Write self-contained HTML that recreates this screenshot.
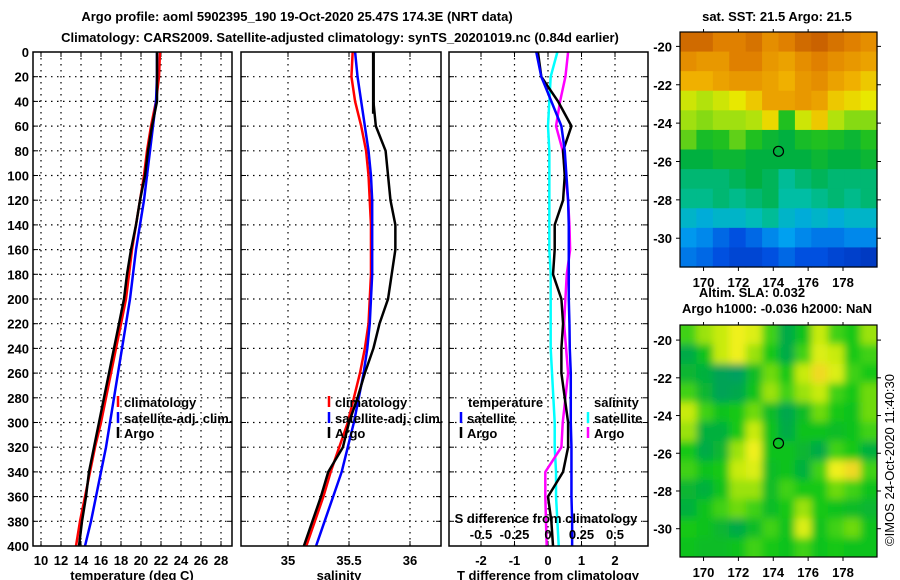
<!DOCTYPE html>
<html><head><meta charset="utf-8">
<style>
html,body{margin:0;padding:0;background:#fff;}
svg{display:block;}
text{font-family:"Liberation Sans",Arial,sans-serif;font-weight:bold;font-size:13px;fill:#000;}
</style></head>
<body>
<svg id="chart" width="900" height="580" viewBox="0 0 900 580" xmlns="http://www.w3.org/2000/svg">
<defs>
<clipPath id="mapclip2"><rect x="680" y="325" width="197" height="232"/></clipPath>
<filter id="blur2" x="-5%" y="-5%" width="110%" height="110%"><feGaussianBlur stdDeviation="4"/></filter>
</defs>
<text x="297" y="21" text-anchor="middle">Argo profile: aoml 5902395_190 19-Oct-2020 25.47S 174.3E (NRT data)</text>
<text x="340" y="42" text-anchor="middle">Climatology: CARS2009. Satellite-adjusted climatology: synTS_20201019.nc (0.84d earlier)</text>
<text x="777" y="21" text-anchor="middle">sat. SST: 21.5 Argo: 21.5</text>
<text x="752" y="297" text-anchor="middle">Altim. SLA: 0.032</text>
<text x="777" y="313" text-anchor="middle">Argo h1000: -0.036 h2000: NaN</text>
<text transform="translate(894,460) rotate(-90)" text-anchor="middle" style="font-weight:normal;font-size:13px">©IMOS 24-Oct-2020 11:40:30</text>
<g id="g"></g>
</svg>
<script>
// ---- data ----
const depths = [0,20,40,60,80,100,120,140,160,180,200,220,240,260,280,300,320,340,360,380,400];
const tempClim = [21.9,21.8,21.5,21.0,20.6,20.3,19.9,19.5,19.1,18.8,18.5,18.0,17.5,17.0,16.5,16.0,15.4,14.9,14.4,13.9,13.5];
const tempSat  = [21.6,21.6,21.5,21.2,20.9,20.6,20.3,19.9,19.5,19.2,18.9,18.5,18.1,17.7,17.3,16.9,16.5,16.0,15.5,15.0,14.4];
const tempArgo = [21.6,21.6,21.6,21.1,20.7,20.4,19.9,19.5,19.0,18.6,18.3,17.8,17.3,16.8,16.3,15.8,15.3,14.8,14.5,14.1,13.8];
const salClim = [35.53,35.52,35.55,35.6,35.64,35.66,35.67,35.68,35.68,35.68,35.67,35.66,35.63,35.59,35.54,35.49,35.42,35.35,35.29,35.22,35.15];
const salSat  = [35.55,35.57,35.6,35.63,35.66,35.68,35.69,35.69,35.69,35.69,35.68,35.67,35.65,35.62,35.58,35.54,35.49,35.44,35.37,35.3,35.23];
const salArgo = [35.7,35.7,35.7,35.72,35.8,35.82,35.84,35.88,35.88,35.85,35.82,35.75,35.7,35.63,35.57,35.5,35.45,35.33,35.27,35.2,35.13];
const dTSat  = [-0.35,-0.2,0.1,0.4,0.5,0.55,0.6,0.62,0.62,0.62,0.62,0.64,0.65,0.68,0.68,0.68,0.7,0.7,0.7,0.72,0.72];
const dTArgo = [-0.3,-0.2,0.3,0.7,0.45,0.5,0.45,0.2,0.2,0.15,0.4,0.45,0.4,0.4,0.5,0.6,0.6,0.45,0.0,0.1,0.15];
const dSSat  = [0.07,0.02,0.01,0.0,0.01,0.01,0.01,0.01,0.01,0.02,0.02,0.02,0.02,0.03,0.04,0.05,0.05,0.06,0.06,0.07,0.08];
const dSArgo = [0.15,0.13,0.09,0.06,0.11,0.13,0.15,0.16,0.165,0.14,0.13,0.12,0.135,0.15,0.13,0.11,0.1,-0.02,-0.02,-0.015,-0.01];
const tempTicks = [10,12,14,16,18,20,22,24,26,28];
const salTicks = [35,35.5,36];
const dTTicks = [-2,-1,0,1,2];
const dSTicks = [-0.5,-0.25,0,0.25,0.5];
const dSTickLabels = ['-0.5','-0.25','0','0.25','0.5'];
const depthTicks = [0,20,40,60,80,100,120,140,160,180,200,220,240,260,280,300,320,340,360,380,400];
const latTicks = [-20,-22,-24,-26,-28,-30];
const lonTicks = [170,172,174,176,178];
const argoLon = 174.3, argoLat = -25.47;
const sstGrid = [
[0.9,0.9,0.85,0.85,0.88,0.82,0.85,0.9,0.92,0.88,0.85,0.82],
[0.82,0.8,0.8,0.85,0.85,0.8,0.78,0.82,0.85,0.82,0.8,0.78],
[0.75,0.75,0.78,0.8,0.8,0.78,0.75,0.8,0.82,0.78,0.75,0.72],
[0.65,0.62,0.65,0.68,0.72,0.78,0.78,0.8,0.78,0.72,0.7,0.68],
[0.6,0.58,0.6,0.6,0.62,0.7,0.5,0.65,0.72,0.62,0.58,0.58],
[0.55,0.48,0.5,0.55,0.5,0.45,0.42,0.48,0.5,0.48,0.45,0.5],
[0.42,0.42,0.45,0.45,0.42,0.42,0.42,0.42,0.45,0.42,0.42,0.45],
[0.38,0.38,0.38,0.4,0.42,0.4,0.35,0.38,0.4,0.38,0.38,0.38],
[0.36,0.36,0.38,0.36,0.38,0.4,0.34,0.34,0.36,0.38,0.36,0.38],
[0.3,0.28,0.3,0.3,0.32,0.35,0.3,0.28,0.3,0.28,0.3,0.3],
[0.24,0.22,0.18,0.15,0.18,0.22,0.25,0.22,0.2,0.2,0.22,0.22],
[0.2,0.18,0.15,0.12,0.12,0.15,0.18,0.15,0.15,0.12,0.1,0.08]];
const slaGrid = [
[0.6,0.7,0.75,0.85,0.8,0.6,0.3,0.5,0.75,0.6,0.55,0.7],
[0.3,0.5,0.75,0.85,0.7,0.55,0.3,0.6,0.8,0.75,0.55,0.6],
[0.4,0.35,0.2,0.15,0.45,0.65,0.55,0.75,0.9,0.8,0.6,0.55],
[0.6,0.4,0.2,0.25,0.5,0.7,0.6,0.7,0.75,0.6,0.55,0.65],
[0.75,0.6,0.5,0.55,0.65,0.45,0.25,0.45,0.65,0.55,0.5,0.65],
[0.7,0.35,0.35,0.55,0.75,0.5,0.3,0.5,0.5,0.45,0.5,0.6],
[0.55,0.3,0.4,0.7,0.85,0.5,0.5,0.4,0.3,0.6,0.55,0.35],
[0.6,0.5,0.55,0.75,0.8,0.45,0.5,0.35,0.6,0.85,0.9,0.6],
[0.4,0.35,0.5,0.7,0.7,0.45,0.6,0.55,0.55,0.65,0.6,0.5],
[0.35,0.5,0.6,0.65,0.6,0.45,0.55,0.7,0.55,0.5,0.45,0.4],
[0.55,0.5,0.4,0.3,0.45,0.6,0.5,0.8,0.5,0.6,0.65,0.5],
[0.5,0.45,0.45,0.5,0.6,0.55,0.5,0.6,0.5,0.55,0.5,0.5]];

// ---- helpers ----
const NS='http://www.w3.org/2000/svg';
const G=document.getElementById('g');
function mk(tag,attrs,parent){const e=document.createElementNS(NS,tag);for(const k in attrs)e.setAttribute(k,attrs[k]);(parent||G).appendChild(e);return e;}
const yTop=52, yBot=546;
const yDepth = d => yTop + d/400*(yBot-yTop);
const xTemp = t => 41 + (t-10)*(221-41)/18;
const xSal = s => 288 + (s-35)*122;
const xDT = d => 548 + d*33.5;
const xDS = s => 548 + s*134;

function panel(name,x0,x1,vgrid){
  const g=mk('g',{});
  
  
  depthTicks.forEach(d=>{ if(d>0&&d<400){ mk('line',{x1:x0,x2:x1,y1:yDepth(d),y2:yDepth(d),stroke:'#000','stroke-width':1.2,'stroke-dasharray':'1.5 4.5'},g);
     mk('line',{x1:x0,x2:x0+5,y1:yDepth(d),y2:yDepth(d),stroke:'#000'},g); mk('line',{x1:x1-5,x2:x1,y1:yDepth(d),y2:yDepth(d),stroke:'#000'},g);} });
  vgrid.forEach(x=>{ mk('line',{x1:x,x2:x,y1:yTop,y2:yBot,stroke:'#000','stroke-width':1.2,'stroke-dasharray':'1.5 4.5'},g);
     mk('line',{x1:x,x2:x,y1:yBot-5,y2:yBot,stroke:'#000'},g); mk('line',{x1:x,x2:x,y1:yTop,y2:yTop+5,stroke:'#000'},g);});
  return g;
}
function line(name,xs,xf,color,g,w){
  const p=mk('polyline',{points:xs.map((v,i)=>xf(v)+','+yDepth(depths[i])).join(' '),fill:'none',stroke:color,'stroke-width':w||2.5,'stroke-linejoin':'round'},g);
  
  
}
function frame(x0,x1){mk('rect',{x:x0,y:yTop,width:x1-x0,height:yBot-yTop,fill:'none',stroke:'#000','stroke-width':1.5});}
function legendEntry(name,x,y,color,label){
  const g=mk('g',{});
  
  
  mk('line',{x1:x,x2:x,y1:y-11,y2:y,stroke:color,'stroke-width':2.5},g);
  if(label){const t=mk('text',{x:x+6,y:y},g);t.textContent=label;}
}

depthTicks.forEach(d=>{const t=mk('text',{x:29,y:yDepth(d)+5,'text-anchor':'end'});t.textContent=d;});

// Panel 1 temperature
let p1=panel('temperature-panel',33,232,tempTicks.map(xTemp));
line('temp-climatology',tempClim,xTemp,'#f00',p1);
line('temp-satellite-adj',tempSat,xTemp,'#00f',p1);
line('temp-argo',tempArgo,xTemp,'#000',p1);
frame(33,232);
tempTicks.forEach(v=>{const t=mk('text',{x:xTemp(v),y:565,'text-anchor':'middle'});t.textContent=v;});
{const t=mk('text',{x:132,y:580,'text-anchor':'middle'});t.textContent='temperature (deg C)';}
legendEntry('legend-climatology',118,407,'#f00','climatology');
legendEntry('legend-satellite-adj',118,423,'#00f','satellite-adj. clim.');
legendEntry('legend-argo',118,438,'#000','Argo');

// Panel 2 salinity
let p2=panel('salinity-panel',241,441,salTicks.map(xSal));
line('sal-climatology',salClim,xSal,'#f00',p2);
line('sal-satellite-adj',salSat,xSal,'#00f',p2);
line('sal-argo',salArgo,xSal,'#000',p2);
mk('line',{x1:xSal(salArgo[0]),x2:xSal(salArgo[0]),y1:yTop,y2:yDepth(50),stroke:'#000','stroke-width':3});
frame(241,441);
salTicks.forEach(v=>{const t=mk('text',{x:xSal(v),y:565,'text-anchor':'middle'});t.textContent=v;});
{const t=mk('text',{x:339,y:580,'text-anchor':'middle'});t.textContent='salinity';}
legendEntry('legend-sal-climatology',329,407,'#f00','climatology');
legendEntry('legend-sal-satellite-adj',329,423,'#00f','satellite-adj. clim.');
legendEntry('legend-sal-argo',329,438,'#000','Argo');

// Panel 3 differences
let p3=panel('difference-panel',449,648,dTTicks.map(xDT));
line('dS-satellite',dSSat,xDS,'#0ff',p3);
line('dS-argo',dSArgo,xDS,'#f0f',p3);
line('dT-argo',dTArgo,xDT,'#000',p3);
line('dT-satellite',dTSat,xDT,'#00f',p3);
frame(449,648);
dTTicks.forEach(v=>{const t=mk('text',{x:xDT(v),y:565,'text-anchor':'middle'});t.textContent=v;});
{const t=mk('text',{x:548,y:580,'text-anchor':'middle'});t.textContent='T difference from climatology';}
{const t=mk('text',{x:546,y:523,'text-anchor':'middle'});t.textContent='S difference from climatology';}
dSTicks.forEach((v,i)=>{const t=mk('text',{x:xDS(v),y:539,'text-anchor':'middle'});t.textContent=dSTickLabels[i];});
{const t=mk('text',{x:468,y:407});t.textContent='temperature';}
{const t=mk('text',{x:594,y:407});t.textContent='salinity';}
legendEntry('legend-dT-satellite',461,423,'#00f','satellite');
legendEntry('legend-dT-argo',461,438,'#000','Argo');
legendEntry('legend-dS-satellite',588,423,'#0ff','satellite');
legendEntry('legend-dS-argo',588,438,'#f0f','Argo');

// ---- maps ----
function interp(stops,v){
  v=Math.max(0,Math.min(1,v));
  for(let i=1;i<stops.length;i++){ if(v<=stops[i][0]){const a=stops[i-1],b=stops[i],f=(v-a[0])/(b[0]-a[0]);
    const c=[0,1,2].map(k=>Math.round(a[1][k]+(b[1][k]-a[1][k])*f)); return 'rgb('+c.join(',')+')';}}
  return 'rgb('+stops[stops.length-1][1].join(',')+')';
}
const sstStops=[[0,[0,32,160]],[0.15,[0,80,224]],[0.25,[0,160,240]],[0.33,[0,192,176]],[0.42,[0,176,64]],[0.5,[32,192,32]],[0.6,[160,224,16]],[0.68,[232,232,0]],[0.75,[240,176,0]],[0.85,[224,128,0]],[1,[176,64,0]]];
const slaStops=[[0,[0,150,120]],[0.3,[0,170,70]],[0.55,[20,200,20]],[0.75,[200,235,10]],[0.85,[240,240,30]],[1,[240,170,40]]];

function map(name,x0,x1,y0,y1,latTop,latBot,grid,stops,blur){
  const lonL=168.65, lonR=179.95;
  const xLon=l=>x0+(l-lonL)/(lonR-lonL)*(x1-x0);
  const yLat=l=>y0+(latTop-l)/(latTop-latBot)*(y1-y0);
  const g=mk('g',{});
  
  
  const cells=mk('g',blur?{filter:'url(#blur2)'}:{},blur?mk('g',{'clip-path':'url(#mapclip2)'},g):g);
  const R=grid.length,C=grid[0].length;
  const cw=(x1-x0)/C,ch=(y1-y0)/R;
  const pad=blur?8:0;
  grid.forEach((row,r)=>row.forEach((v,c)=>{
    const cx=x0+c*cw-(c==0?pad:0), cy=y0+r*ch-(r==0?pad:0);
    const w=cw+0.6+(c==0||c==C-1?pad:0), h=ch+0.6+(r==0||r==R-1?pad:0);
    const rc=mk('rect',{x:cx,y:cy,width:w,height:h,fill:interp(stops,v)},cells);
    
    
  }));
  mk('rect',{x:x0,y:y0,width:x1-x0,height:y1-y0,fill:'none',stroke:'#000','stroke-width':1.2},g);
  latTicks.forEach(l=>{const y=yLat(l);
    mk('line',{x1:x1,x2:x1+4,y1:y,y2:y,stroke:'#000'},g);
    mk('line',{x1:x0-4,x2:x0,y1:y,y2:y,stroke:'#000'},g);
    const t=mk('text',{x:x0-8,y:y+5,'text-anchor':'end'},g);t.textContent=l;});
  lonTicks.forEach(l=>{const x=xLon(l);
    mk('line',{x1:x,x2:x,y1:y1,y2:y1+4,stroke:'#000'},g);
    mk('line',{x1:x,x2:x,y1:y0-3,y2:y0,stroke:'#000'},g);
    const t=mk('text',{x:x,y:y1+20,'text-anchor':'middle'},g);t.textContent=l;});
  const m=mk('circle',{cx:xLon(argoLon),cy:yLat(argoLat),r:5,fill:'none',stroke:'#000','stroke-width':1.2},g);
  
  
}
map('sst-map',680,877,32,267,-19.25,-31.5,sstGrid,sstStops,false);
map('sla-map',680,877,325,557,-19.2,-31.5,slaGrid,slaStops,true);
</script>
</body></html>
